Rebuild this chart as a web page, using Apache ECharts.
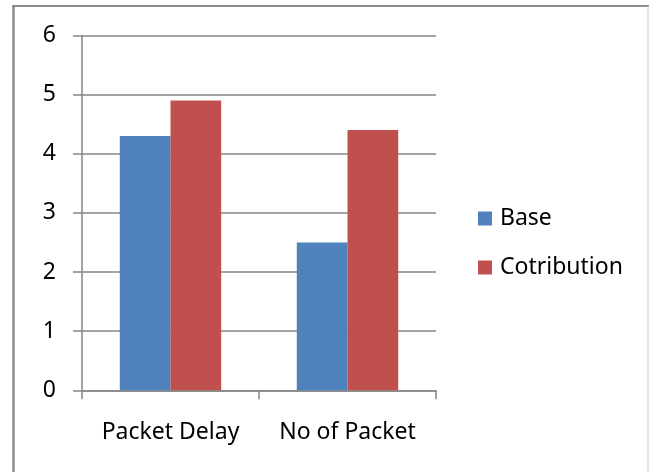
<!DOCTYPE html>
<html>
<head>
<meta charset="utf-8">
<script src="https://cdn.jsdelivr.net/npm/echarts@6/dist/echarts.min.js"></script>
<style>
  html, body { margin: 0; padding: 0; background: #fff; }
  #chart { width: 649px; height: 472px; }
</style>
</head>
<body>
<div id="chart"></div>
<script>
// Chart data
const categories = ['Packet Delay', 'No of Packet'];
const baseValues = [4.3, 2.5];
const contributionValues = [4.9, 4.4];
const seriesNames = ['Base', 'Cotribution'];

const FONT = '"Noto Sans", "Open Sans", sans-serif';
const FONT_SIZE = 23;
const GRID_COLOR = '#868686';

const chart = echarts.init(document.getElementById('chart'), null, { renderer: 'canvas' });

chart.setOption({
  backgroundColor: '#ffffff',
  animation: false,
  textStyle: { fontFamily: FONT },
  graphic: [
    // frame around the chart: darker top/left edges, light right edge
    { type: 'line', shape: { x1: 12, y1: 6, x2: 649, y2: 6 }, style: { stroke: '#8c8c8c', lineWidth: 2 } },
    { type: 'line', shape: { x1: 13.5, y1: 5, x2: 13.5, y2: 472 }, style: { stroke: '#8c8c8c', lineWidth: 2.5 } },
    { type: 'line', shape: { x1: 648, y1: 6, x2: 648, y2: 472 }, style: { stroke: '#d0d0d0', lineWidth: 1 } }
  ],
  grid: { left: 82, right: 213, top: 35.5, bottom: 81.7, containLabel: false },
  legend: {
    orient: 'vertical',
    left: 478,
    top: 207,
    padding: 0,
    itemWidth: 14,
    itemHeight: 14,
    itemGap: 26,
    icon: 'rect',
    textStyle: { fontFamily: FONT, fontSize: FONT_SIZE, color: '#000', padding: [0, 0, 0, 3] },
    data: seriesNames
  },
  xAxis: {
    type: 'category',
    data: categories,
    axisLine: { lineStyle: { color: GRID_COLOR, width: 1.5 } },
    axisTick: { show: true, length: 9, lineStyle: { color: GRID_COLOR, width: 1.5 } },
    axisLabel: { interval: 0, hideOverlap: false, margin: 31, fontFamily: FONT, fontSize: FONT_SIZE, color: '#000' }
  },
  yAxis: {
    type: 'value',
    min: 0,
    max: 6,
    interval: 1,
    axisLine: { show: true, lineStyle: { color: GRID_COLOR, width: 1.5 } },
    axisTick: { show: true, length: 9, lineStyle: { color: GRID_COLOR, width: 1.5 } },
    splitLine: { show: true, lineStyle: { color: GRID_COLOR, width: 1.5 } },
    axisLabel: { margin: 26, fontFamily: FONT, fontSize: FONT_SIZE, color: '#000' }
  },
  series: [
    {
      name: seriesNames[0],
      type: 'bar',
      data: baseValues,
      barGap: '0%',
      barCategoryGap: '42.7%',
      itemStyle: { color: '#4F81BD' }
    },
    {
      name: seriesNames[1],
      type: 'bar',
      data: contributionValues,
      barGap: '0%',
      barCategoryGap: '42.7%',
      itemStyle: { color: '#C0504D' }
    }
  ]
});
</script>
</body>
</html>
